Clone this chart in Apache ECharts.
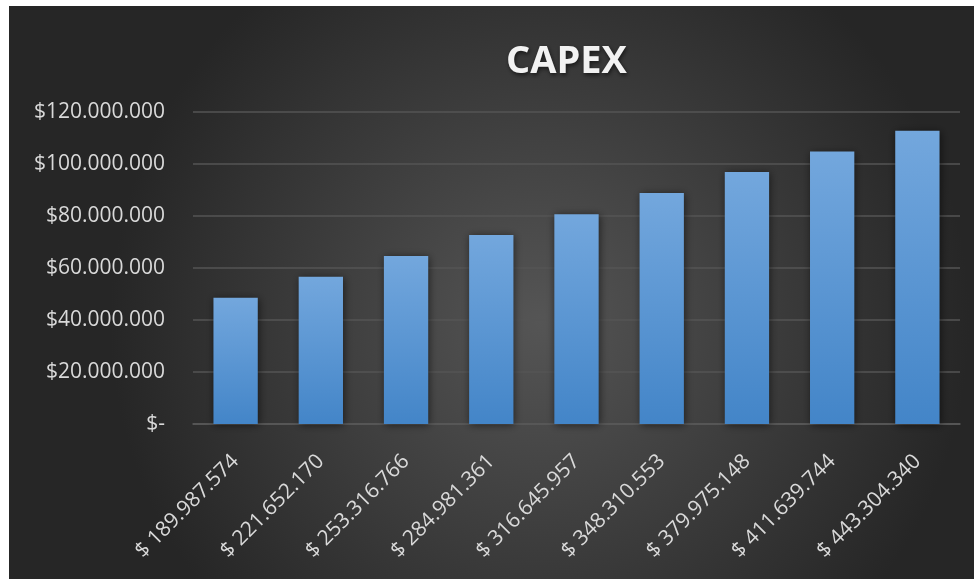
<!DOCTYPE html>
<html>
<head>
<meta charset="utf-8">
<script src="https://cdn.jsdelivr.net/npm/echarts@6/dist/echarts.min.js"></script>
<style>
html,body{margin:0;padding:0;background:#ffffff;width:974px;height:579px;overflow:hidden;}
#chart{position:absolute;left:9px;top:6px;width:965px;height:573px;}
</style>
</head>
<body>
<div id="chart"></div>
<script>
const title = 'CAPEX';
const categories = ['$ 189.987.574','$ 221.652.170','$ 253.316.766','$ 284.981.361','$ 316.645.957','$ 348.310.553','$ 379.975.148','$ 411.639.744','$ 443.304.340'];
const values = [48600000, 56600000, 64600000, 72700000, 80700000, 88800000, 96900000, 104800000, 112800000];
const yMin = 0, yMax = 120000000, yStep = 20000000;

function fmt(v){
  if (v === 0) return '$-';
  return '$' + String(Math.round(v)).replace(/\B(?=(\d{3})+(?!\d))/g, '.');
}

const chart = echarts.init(document.getElementById('chart'));
chart.setOption({
  animation:false,
  backgroundColor:{
    type:'radial', x:0.55, y:0.55, r:0.75,
    colorStops:[{offset:0,color:'#555555'},{offset:1,color:'#262626'}]
  },
  title:{
    text:title, left:492, top:32,
    textStyle:{color:'#f2f2f2', fontFamily:'Open Sans', fontWeight:'bold', fontSize:38,
      textShadowColor:'rgba(0,0,0,0.6)', textShadowBlur:4, textShadowOffsetX:1, textShadowOffsetY:2}
  },
  grid:{left:184, right:14, top:106, bottom:155, containLabel:false},
  xAxis:{
    type:'category', data:categories,
    axisLine:{show:true, lineStyle:{color:'#5a5a5a', width:1.5}},
    axisTick:{show:false},
    axisLabel:{rotate:45, margin:34, color:'#d9d9d9', fontFamily:'Open Sans', fontSize:21, interval:0}
  },
  yAxis:{
    type:'value', min:yMin, max:yMax, interval:yStep,
    axisLine:{show:false}, axisTick:{show:false},
    splitLine:{lineStyle:{color:'#555555', width:1.5}},
    axisLabel:{formatter:fmt, margin:28, color:'#d9d9d9', fontFamily:'Open Sans', fontSize:21}
  },
  series:[{
    type:'bar', data:values, barWidth:'52%',
    itemStyle:{
      color:{type:'linear', x:0, y:0, x2:0, y2:1,
        colorStops:[{offset:0,color:'#73a7dd'},{offset:1,color:'#4385c8'}]},
      shadowColor:'rgba(0,0,0,0.55)', shadowBlur:8, shadowOffsetX:1, shadowOffsetY:1
    }
  }]
});
</script>
</body>
</html>
